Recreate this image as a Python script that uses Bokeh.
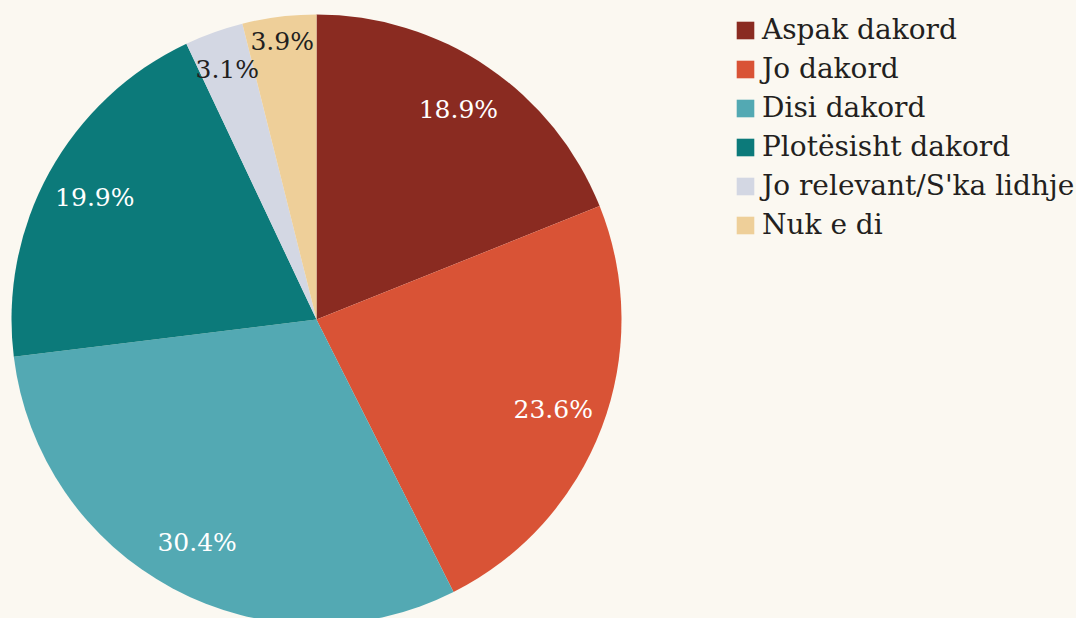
import math
from bokeh.plotting import figure
from bokeh.models import Range1d, Legend, LegendItem, ColumnDataSource
from bokeh.embed import file_html
from bokeh.resources import INLINE
from bokeh.core.properties import value

categories = ["Aspak dakord", "Jo dakord", "Disi dakord", "Plotësisht dakord",
              "Jo relevant/S'ka lidhje", "Nuk e di"]
values = [18.9, 23.6, 30.4, 19.9, 3.1, 3.9]
colors = ["#8a2b21", "#d95336", "#53a9b3", "#0c7a7a", "#d3d7e3", "#eecf99"]
label_colors = ["#ffffff", "#ffffff", "#ffffff", "#ffffff", "#231f20", "#231f20"]

BG = "#fbf8f1"
FONT = "DejaVu Serif"
W, H = 1076, 618
cx, cy, R = 316, H - 319, 305

total = sum(values)
starts, ends, lx, ly, texts = [], [], [], [], []
cum = 0.0
n_small = 0
for v in values:
    a0 = math.pi / 2 - 2 * math.pi * cum / total
    a1 = math.pi / 2 - 2 * math.pi * (cum + v) / total
    mid = (a0 + a1) / 2
    if v / total > 0.1:
        f = 0.83
    else:
        # small slices: labels pushed outward, staggered to avoid overlap
        f = 0.87 + 0.05 * n_small
        n_small += 1
    starts.append(a1)
    ends.append(a0)
    lx.append(cx + f * R * math.cos(mid))
    ly.append(cy + f * R * math.sin(mid))
    texts.append(f"{v:.1f}%")
    cum += v

src = ColumnDataSource(dict(cat=categories, val=values, color=colors,
                            start=starts, end=ends, lx=lx, ly=ly,
                            txt=texts, tcol=label_colors))

p = figure(width=W, height=H, x_range=Range1d(0, W), y_range=Range1d(0, H),
           output_backend="svg", toolbar_location=None, min_border=0)
p.axis.visible = False
p.grid.visible = False
p.outline_line_color = None
p.background_fill_color = BG
p.border_fill_color = BG

wr = p.wedge(x=cx, y=cy, radius=R, start_angle="start", end_angle="end",
             fill_color="color", line_color=None, source=src)
p.text(x="lx", y="ly", text="txt", text_color="tcol", source=src,
       text_font=value(FONT), text_font_size="25px",
       text_align="center", text_baseline="middle")

items = [LegendItem(label=c, renderers=[wr], index=i) for i, c in enumerate(categories)]
legend = Legend(items=items, location=(734, 377),
                label_text_font=FONT, label_text_font_size="28px",
                label_text_color="#231f20",
                glyph_width=22, glyph_height=22, label_height=22,
                spacing=6, padding=0, margin=0, label_standoff=6,
                background_fill_alpha=0, border_line_color=None)
p.add_layout(legend, "center")

html = file_html(p, INLINE)
html = html.replace("</head>",
                    f"<style>html,body{{background:{BG};margin:0;}}</style></head>", 1)
open("out.html", "w").write(html)
